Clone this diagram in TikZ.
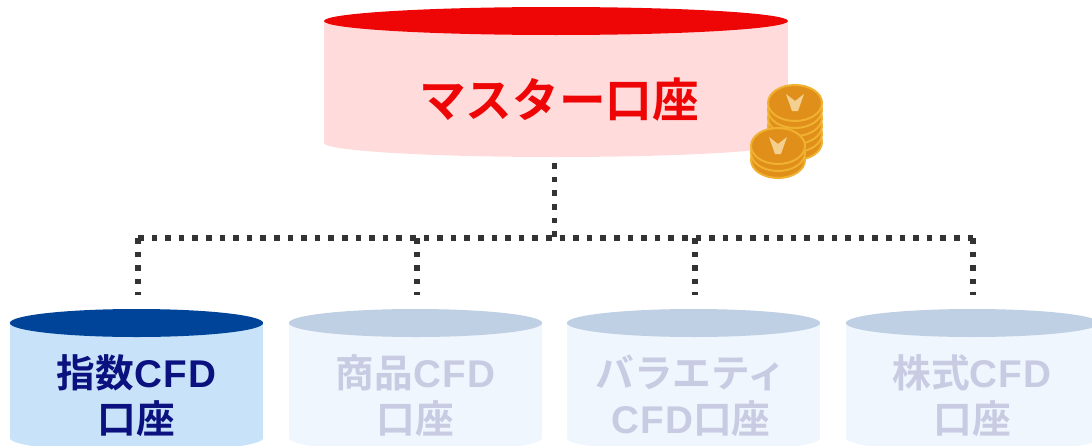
\documentclass[tikz,border=0pt]{standalone}
\usepackage{fontspec}
\usetikzlibrary{shapes.geometric}
\newfontfamily\cjk{Noto Sans CJK JP}[BoldFont={Noto Sans CJK JP Bold}]
\newfontfamily\latin{Liberation Sans}[LetterSpace=3]
\definecolor{redtop}{HTML}{EE0606}
\definecolor{redbody}{HTML}{FFDBDB}
\definecolor{bluetop}{HTML}{004499}
\definecolor{bluebody}{HTML}{C8E3F9}
\definecolor{bluetext}{HTML}{0B1280}
\definecolor{paletop}{HTML}{BFCFE4}
\definecolor{palebody}{HTML}{EFF6FD}
\definecolor{paletext}{HTML}{C9CBE3}
\definecolor{coinedge}{HTML}{F0B030}
\definecolor{coinface}{HTML}{E0901A}
\definecolor{coinmark}{HTML}{F3CF90}
\tikzset{
    bigend/.style={ellipse, inner sep=0pt, minimum width=348pt, minimum height=21pt},
    bigbody/.style={rectangle, inner sep=0pt, minimum width=348pt, minimum height=91.5pt, fill=redbody},
    smallend/.style={ellipse, inner sep=0pt, minimum width=190pt, minimum height=21pt},
    smallbody/.style={rectangle, inner sep=0pt, minimum width=190pt, minimum height=86.5pt},
    biglabel/.style={font=\cjk\bfseries\fontsize{35pt}{40pt}\selectfont, text=redtop},
    smalllabel/.style={font=\cjk\bfseries\fontsize{29pt}{34.5pt}\selectfont, align=center},
    link/.style={draw=black!80, line width=3.8pt, dash pattern=on 4.2pt off 6pt},
    coin/.style={draw=coinedge, line width=1.5pt, fill=coinface}
}
\begin{document}
\begin{tikzpicture}[x=0.75pt, y=-0.75pt]
    \useasboundingbox (0,0) rectangle (1092,446);
    \clip (0,0) rectangle (1092,446);

    \node[bigend, fill=redbody] (masterbase) at (556,143) {};
    \node[bigbody] (master) at (556,82) {};
    \node[bigend, fill=redtop] (mastertop) at (556,21) {};
    \node[biglabel] (masterlabel) at (559,100) {マスター口座};

    \node[smallend, fill=bluebody] (indexbase) at (136.5,438) {};
    \node[smallbody, fill=bluebody] (index) at (136.5,380) {};
    \node[smallend, fill=bluetop] (indextop) at (136.5,323) {};
    \node[smallend, fill=palebody] (commoditybase) at (415.5,438) {};
    \node[smallbody, fill=palebody] (commodity) at (415.5,380) {};
    \node[smallend, fill=paletop] (commoditytop) at (415.5,323) {};
    \node[smallend, fill=palebody] (varietybase) at (693.5,438) {};
    \node[smallbody, fill=palebody] (variety) at (693.5,380) {};
    \node[smallend, fill=paletop] (varietytop) at (693.5,323) {};
    \node[smallend, fill=palebody] (stockbase) at (972.5,438) {};
    \node[smallbody, fill=palebody] (stock) at (972.5,380) {};
    \node[smallend, fill=paletop] (stocktop) at (972.5,323) {};

    \node[smalllabel, text=bluetext] (indexlabel) at (136.5,396) {指数{\latin CFD}\\口座};
    \node[smalllabel, text=paletext] (commoditylabel) at (415.5,396) {商品{\latin CFD}\\口座};
    \node[smalllabel, text=paletext] (varietylabel) at (691,396) {バラエティ\\{\latin CFD}口座};
    \node[smalllabel, text=paletext] (stocklabel) at (972,396) {株式{\latin CFD}\\口座};

    \coordinate (hub) at (554.5,238);
    \coordinate (tapindex) at (138,238);
    \coordinate (tapcommodity) at (417,238);
    \coordinate (tapvariety) at (695,238);
    \coordinate (tapstock) at (973,238);

    \draw[link, shorten <=4.5pt] (hub |- masterbase.south) -- (hub);
    \draw[link] (tapindex) -- (tapstock);
    \draw[link, shorten >=10.5pt] (tapindex) -- (tapindex |- indextop.north);
    \draw[link, shorten >=10.5pt] (tapcommodity) -- (tapcommodity |- commoditytop.north);
    \draw[link, shorten >=10.5pt] (tapvariety) -- (tapvariety |- varietytop.north);
    \draw[link, shorten >=10.5pt] (tapstock) -- (tapstock |- stocktop.north);

    % coins
    \foreach \y in {142,134,126,118,110,103}
        \draw[coin] (795,\y) ellipse (27 and 18);
    \fill[coinmark] (786,94) -- (795,101) -- (804,94) -- (798,111) -- (792,111) -- cycle;
    \foreach \y in {160,153,146}
        \draw[coin] (778,\y) ellipse (27 and 18);
    \fill[coinmark] (769,137) -- (778,144) -- (787,137) -- (781,154) -- (775,154) -- cycle;
\end{tikzpicture}
\end{document}
